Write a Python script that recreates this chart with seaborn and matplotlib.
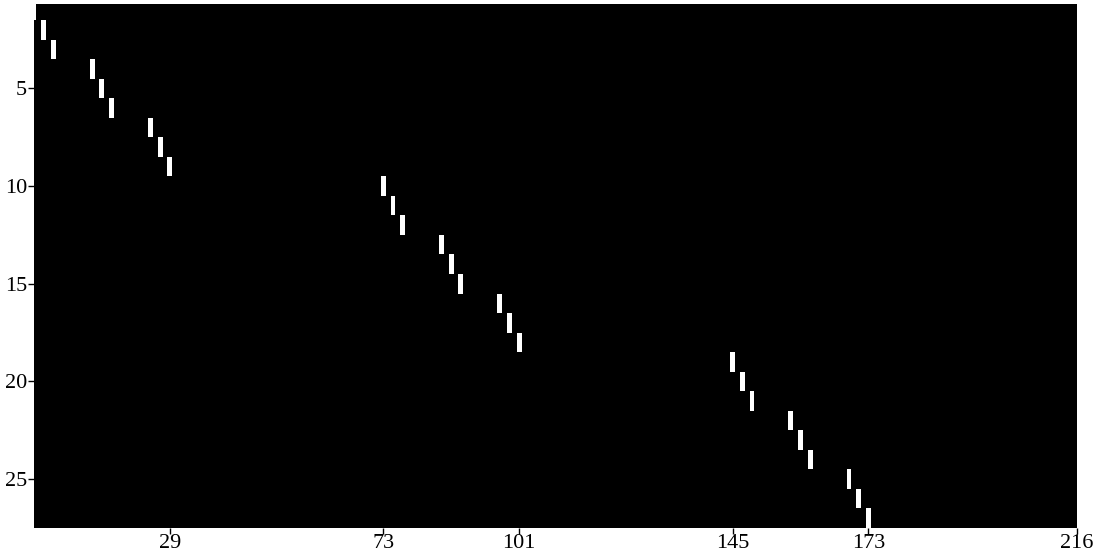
import matplotlib
matplotlib.use("Agg")
import matplotlib.pyplot as plt
import seaborn as sns
import numpy as np
from matplotlib.colors import ListedColormap

# sparsity pattern: one nonzero per row
n_rows = 27
n_cols = 216
row_idx = list(range(1, 28))
col_idx = [1, 3, 5, 13, 15, 17, 25, 27, 29,
           73, 75, 77, 85, 87, 89, 97, 99, 101,
           145, 147, 149, 157, 159, 161, 169, 171, 173]

x_ticks = [29, 73, 101, 145, 173, 216]
y_ticks = [5, 10, 15, 20, 25]

sns.set_style("ticks")
plt.rcParams['font.family'] = ['Liberation Serif', 'DejaVu Serif']

mat = np.zeros((n_rows, n_cols))
for r, c in zip(row_idx, col_idx):
    mat[r - 1, c - 1] = 1

fig = plt.figure(figsize=(11.09, 5.54), dpi=100)
ax = fig.add_axes([34 / 1109, 26 / 554, 1043 / 1109, 524 / 554])

sns.heatmap(mat, ax=ax, cmap=ListedColormap(["black", "white"]),
            cbar=False, xticklabels=False, yticklabels=False)

# heatmap cells are centred on k - 0.5 for 1-based index k
ax.set_xlim(1 - 0.5, 216 - 0.5)
ax.set_ylim(27.5 - 0.5, 0.68 - 0.5)

ax.set_xticks([t - 0.5 for t in x_ticks])
ax.set_xticklabels([str(t) for t in x_ticks], rotation=0, fontsize=16)
ax.set_yticks([t - 0.5 for t in y_ticks])
ax.set_yticklabels([str(t) for t in y_ticks], rotation=0, fontsize=16)
ax.tick_params(axis='x', bottom=True, length=4, width=1, direction='out',
               pad=0, colors='black')
ax.tick_params(axis='y', left=True, length=4, width=1, direction='out',
               pad=1, colors='black')
ax.set_xlabel("")
ax.set_ylabel("")

fig.savefig("out.png", dpi=100)
